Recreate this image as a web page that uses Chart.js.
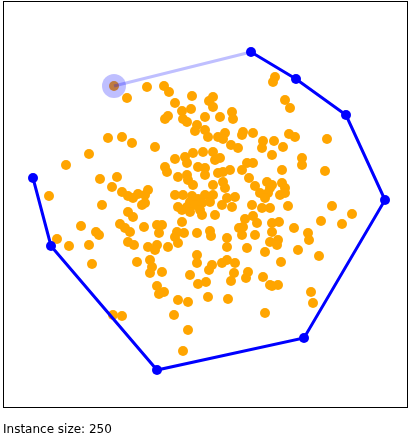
<!DOCTYPE html>
<html>
<head>
<meta charset="utf-8">
<script src="https://cdn.jsdelivr.net/npm/chart.js@4/dist/chart.umd.min.js"></script>
<style>
  html, body { margin: 0; padding: 0; background: #fff; }
  #wrap { position: relative; width: 412px; height: 437px; }
  #c { position: absolute; left: 0; top: 0; }
  #caption { position: absolute; left: 3px; top: 422px; font-family: "DejaVu Sans", sans-serif; font-size: 12px; line-height: 14px; color: #000; white-space: nowrap; }
</style>
</head>
<body>
<div id="wrap">
  <canvas id="c" width="412" height="437"></canvas>
  <div id="caption">Instance size: 250</div>
</div>
<script>
// Instance points (orange)
const pointsX = [111,124,105,119,129,86,63,97,114,109,119,125,130,135,139,46,99,125,130,117,122,127,78,93,96,54,66,86,125,131,89,110,119,
  144,161,166,172,189,210,206,210,179,188,162,165,180,184,202,217,229,230,194,192,202,205,215,222,220,240,239,250,260,
  272,270,282,287,286,292,324,271,
  228,235,259,152,172,182,190,200,210,212,217,184,195,202,202,162,164,175,184,185,190,220,227,220,222,210,239,244,246,252,264,267,265,257,262,
  145,142,142,172,180,189,187,195,202,210,207,192,199,197,184,175,179,187,199,212,224,229,232,219,249,259,250,242,240,254,236,239,252,244,267,269,
  141,154,159,156,179,181,174,172,175,165,154,145,152,194,207,208,224,224,194,194,209,206,219,224,232,231,245,147,149,147,159,187,134,262,
  280,269,299,299,279,322,269,279,282,277,282,267,285,329,349,339,318,269,276,291,305,306,275,274,295,316,278,
  154,161,156,195,203,228,243,260,267,175,185,205,225,171,262,185,180,269,275,308,310,250,215];
const pointsY = [322,310,270,271,265,254,243,229,231,221,216,212,210,214,203,212,203,196,191,184,180,176,182,176,173,169,162,163,166,163,144,93,92,
  321,322,316,305,312,311,307,301,297,299,289,292,289,286,291,291,296,289,283,277,278,271,271,275,269,276,273,275,267,
  331,326,308,300,274,271,269,267,
  263,260,260,261,249,251,255,256,256,248,250,245,241,240,233,241,236,231,233,228,223,236,238,226,220,223,238,245,230,222,226,220,215,215,210,
  218,213,205,213,213,212,206,209,213,213,206,203,205,198,201,201,198,196,193,193,210,201,211,203,203,200,192,189,181,185,180,173,173,160,166,176,
  181,183,183,175,186,175,176,171,165,161,163,161,158,175,177,172,170,161,153,145,143,138,145,148,145,135,136,148,141,135,136,133,146,156,
  261,253,250,243,238,237,223,225,220,213,215,200,202,202,194,184,187,185,186,180,175,168,168,163,158,152,146,
  122,116,114,124,126,127,130,131,123,108,106,111,109,93,95,78,57,122,123,116,105,245,235];

// Hull built so far (blue)
const hullX = [248,293,343,382,301,154,48,30];
const hullY = [356,329,293,208,70,38,162,230];

// Current candidate edge (light blue) and highlighted point
const edgeX = [111,248];
const edgeY = [322,356];
const focusX = [111];
const focusY = [322];

// Axis extents (data units)
const xRange = [0,405];
const yRange = [0,407];

const zip = (xs, ys) => xs.map((x, i) => ({ x: x, y: ys[i] }));

const framePlugin = {
  id: 'frame',
  afterDraw(chart) {
    const a = chart.chartArea, ctx = chart.ctx;
    ctx.save();
    ctx.strokeStyle = '#000';
    ctx.lineWidth = 1;
    ctx.strokeRect(a.left + 0.5, a.top + 0.5, a.right - a.left - 1, a.bottom - a.top - 1);
    ctx.restore();
  }
};

new Chart(document.getElementById('c'), {
  type: 'scatter',
  data: {
    datasets: [
      {
        label: 'focus',
        data: zip(focusX, focusY),
        pointRadius: 12,
        pointBackgroundColor: 'rgba(0,0,255,0.25)',
        pointBorderWidth: 0,
        order: 0
      },
      {
        label: 'edge',
        data: zip(edgeX, edgeY),
        showLine: true,
        borderColor: 'rgba(0,0,255,0.25)',
        borderWidth: 3,
        pointRadius: 0,
        order: 1
      },
      {
        label: 'hull',
        data: zip(hullX, hullY),
        showLine: true,
        borderColor: '#0000ff',
        borderWidth: 3,
        pointRadius: 5,
        pointBackgroundColor: '#0000ff',
        pointBorderWidth: 0,
        order: 2
      },
      {
        label: 'points',
        data: zip(pointsX, pointsY),
        pointRadius: 5,
        pointBackgroundColor: '#ffa500',
        pointBorderWidth: 0,
        order: 3
      }
    ]
  },
  options: {
    responsive: false,
    animation: false,
    events: [],
    layout: { autoPadding: false, padding: { left: 3, right: 4, top: 1, bottom: 29 } },
    plugins: { legend: { display: false }, tooltip: { enabled: false } },
    scales: {
      x: { type: 'linear', min: xRange[0], max: xRange[1], display: false },
      y: { type: 'linear', min: yRange[0], max: yRange[1], display: false }
    }
  },
  plugins: [framePlugin]
});
</script>
</body>
</html>
